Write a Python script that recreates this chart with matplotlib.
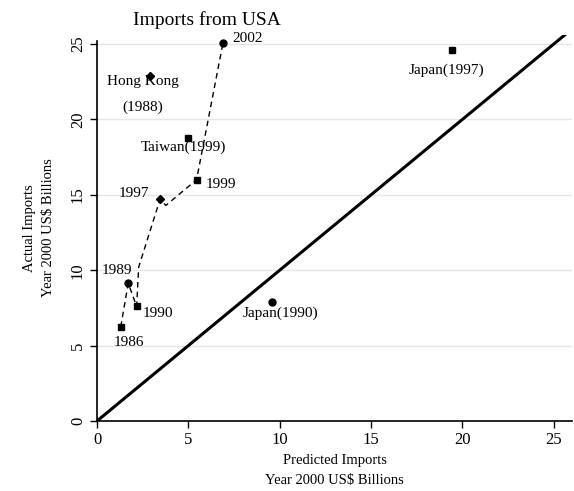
import matplotlib
matplotlib.use("Agg")
from matplotlib import pyplot as plt
import numpy as np

# US export path (predicted vs actual, bn 2000 US$); unlabelled points are unmarked years
usa_x = [1.3, 1.71, 2.17, 2.28, 3.45, 3.77, 5.45, 6.9]
usa_y = [6.25, 9.13, 7.6, 10.2, 14.7, 14.3, 16.0, 25.1]
usa_year = ["1986", "1989", "1990", "", "1997", "", "1999", "2002"]
usa_marker = ["s", "o", "s", "", "D", "", "s", "o"]

# other economies
other_name = ["Hong Kong\n\n(1988)", "Taiwan(1999)", "Japan(1990)", "Japan(1997)"]
other_x = [2.9, 5.0, 9.6, 19.45]
other_y = [22.9, 18.8, 7.9, 24.6]
other_marker = ["D", "s", "o", "s"]

xticks = [0, 5, 10, 15, 20, 25]
yticks = [0, 5, 10, 15, 20, 25]

serif = ["Liberation Serif", "DejaVu Serif"]
plt.rcParams["font.family"] = serif

fig = plt.figure(figsize=(5.74, 4.91), dpi=100)
ax = fig.add_axes([97 / 574, 70 / 491, 475 / 574, 386 / 491])
ax.set_xlim(0, 26.0)
ax.set_ylim(0, 25.6)

for y in yticks[1:]:
    ax.axhline(y, color="#e6e6e6", lw=1, zorder=0)

# 45 degree line
ax.plot([0, 25.7], [0, 25.7], color="black", lw=2.2, zorder=2)

ax.plot(usa_x, usa_y, color="black", lw=1, ls=(0, (4, 3)), zorder=3)
for x, y, m in zip(usa_x, usa_y, usa_marker):
    if m:
        ax.plot(x, y, marker=m, color="black", ms=4.5 if m == "D" else 5, zorder=4)
for x, y, m in zip(other_x, other_y, other_marker):
    ax.plot(x, y, marker=m, color="black", ms=4.5 if m == "D" else 5, zorder=4)

# label offsets in pixels (label anchor relative to the point)
usa_off = {"1986": (8, -16, "center"), "1989": (-11, 13, "center"),
           "1990": (21, -7, "center"), "1997": (-26, 6, "center"),
           "1999": (24, -5, "center"), "2002": (25, 4, "center")}
for x, y, lab in zip(usa_x, usa_y, usa_year):
    if lab:
        dx, dy, ha = usa_off[lab]
        ax.annotate(lab, (x, y), xytext=(dx, dy), textcoords="offset pixels",
                    ha=ha, va="center", fontsize=11)

other_off = [(-7, -19), (-5, -10), (8, -11), (-6, -20)]
for x, y, lab, (dx, dy) in zip(other_x, other_y, other_name, other_off):
    ax.annotate(lab, (x, y), xytext=(dx, dy), textcoords="offset pixels",
                ha="center", va="center", fontsize=11, linespacing=1.0)

ax.spines["top"].set_visible(False)
ax.spines["right"].set_visible(False)
ax.spines["left"].set_bounds(0, 25.2)
ax.spines["left"].set_linewidth(1.2)
ax.spines["bottom"].set_linewidth(1.2)

ax.set_xticks(xticks)
ax.set_yticks(yticks)
ax.tick_params(direction="out", length=5, width=1, labelsize=12, pad=3)
for t in ax.get_yticklabels():
    t.set_rotation(90)
    t.set_va("center")

ax.set_xlabel("Predicted Imports\nYear 2000 US$ Billions", fontsize=10.5, labelpad=4,
              linespacing=1.75)
ax.set_ylabel("Actual Imports\nYear 2000 US$ Billions", fontsize=10.5, labelpad=11,
              linespacing=1.6)

fig.text(207 / 574, 1 - 20 / 491, "Imports from USA", ha="center", va="center",
         fontsize=14)

fig.savefig("out.png", dpi=100)
